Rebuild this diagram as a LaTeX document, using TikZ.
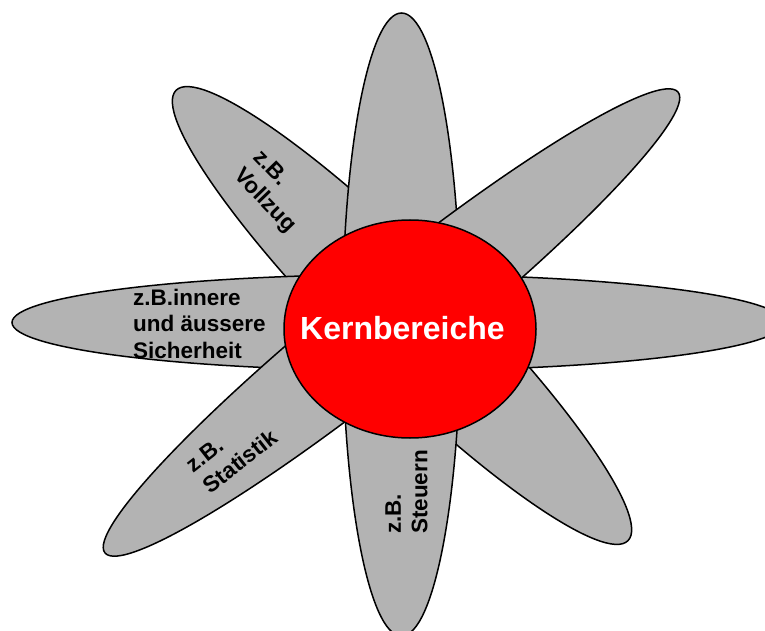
\documentclass[tikz,border=0pt]{standalone}
\usepackage{fontspec}
\setmainfont{Liberation Sans}
\usepackage{xcolor}
\usetikzlibrary{shapes.geometric,positioning}

\definecolor{petalgray}{RGB}{179,179,179}
\definecolor{kernred}{RGB}{255,0,0}

\begin{document}
\begin{tikzpicture}[
  x=1pt, y=1pt,
  petal/.style={draw=black, fill=petalgray, line width=1.5pt},
  kern/.style={ellipse, draw=black, fill=kernred, line width=1.5pt,
               minimum width=252pt, minimum height=218pt, inner sep=0pt},
  kerntxt/.style={text=white, font=\fontsize{32}{38}\selectfont\bfseries,
                  inner sep=0pt},
  lbl/.style={font=\fontsize{22.5}{26.7}\selectfont\bfseries, align=left,
              inner sep=0pt},
]
\useasboundingbox (0,0) rectangle (765,630);

%% -- petals: one long ellipse per axis, back to front ---------------
% centre x / centre y / angle / long radius / short radius
\foreach \cx/\cy/\ang/\ra/\rb in {
    402/314.5/-44.9/319/58,    % upper left - lower right
    398/307.5/0/386/48,        % left - right
    401.5/305.5/90/311.5/59,   % top - bottom
    391.5/307.5/38.8/367.7/50  % upper right - lower left
  }{
  \draw[petal, shift={(\cx,\cy)}, rotate=\ang]
      (0,0) ellipse [x radius=\ra, y radius=\rb];
}

%% -- centre -----------------------------------------------------------
\node[kern] (kern) at (410,301) {};
\node[kerntxt] (kerntext) at (402.5,302) {Kernbereiche};

%% -- petal labels -----------------------------------------------------
\node[lbl, rotate=-46] (vollzug)   at (274,438) {z.B.\\Vollzug};
\node[lbl, anchor=west] (sicherheit) at (133,306.3)
     {z.B.innere\\und äussere\\Sicherheit};
\node[lbl, rotate=38]  (statistik) at (232,179) {z.B.\\Statistik};
\node[lbl, rotate=90]  (steuern)   at (406.5,138) {z.B.\\Steuern};

\end{tikzpicture}
\end{document}
